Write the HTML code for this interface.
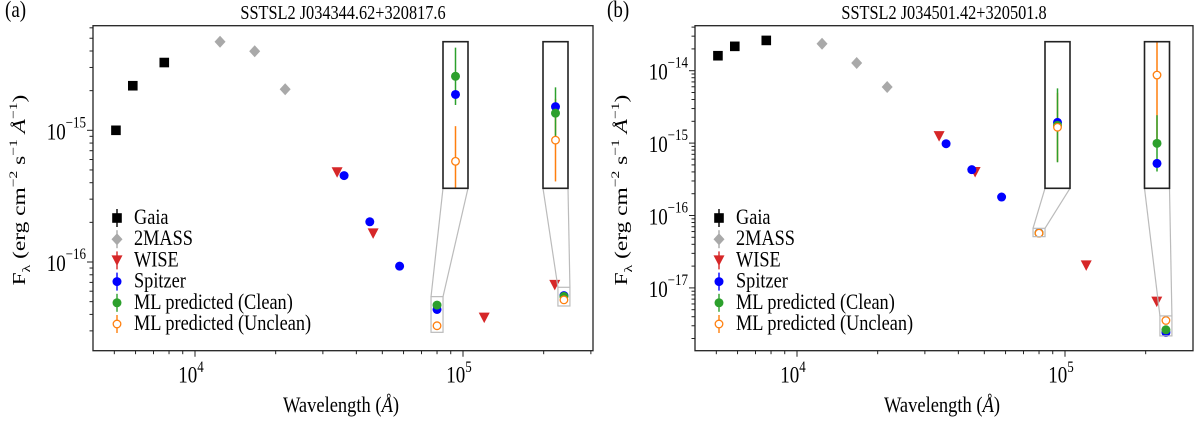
<!DOCTYPE html>
<html><head><meta charset="utf-8">
<style>
html,body{margin:0;padding:0;background:#fff;}
svg{display:block;font-family:"Liberation Serif",serif;}
</style></head>
<body>
<svg id="chart" width="1200" height="424" viewBox="0 0 1200 424" xmlns="http://www.w3.org/2000/svg"></svg>
<script>
// ---------- data (wavelength in Angstrom, flux in erg cm^-2 s^-1 A^-1) ----------
const gaiaWave = [5070, 5860, 7680];
const twomassWave = [12400, 16700, 21700];
const wiseWave = [33900, 46200, 120000, 220000];
const spitzerWave = [36000, 44900, 58000, 80000, 238000];
const mlWave = [80000, 238000];

const aGaia = [1.0e-15, 2.18e-15, 3.27e-15];
const a2mass = [4.7e-15, 3.98e-15, 2.05e-15];
const aWise = [4.8e-16, 1.65e-16, 3.78e-17, 6.7e-17];
const aSpitzer = [4.53e-16, 2.02e-16, 9.3e-17, 4.36e-17, 5.56e-17];
const aClean = [4.71e-17, 5.48e-17];
const aUnclean = [3.28e-17, 5.16e-17];
const aCleanErrDex = [0.053, 0.025];
const aUncleanErrDex = [0.065, 0.04];

const bGaia = [1.61e-14, 2.17e-14, 2.62e-14];
const b2mass = [2.36e-14, 1.28e-14, 5.95e-15];
const bWise = [1.25e-15, 3.99e-16, 2.05e-17, 6.47e-18];
const bSpitzer = [9.8e-16, 4.3e-16, 1.8e-16, 5.75e-17, 2.42e-18];
const bClean = [5.72e-17, 2.64e-18];
const bUnclean = [5.70e-17, 3.55e-18];
const bCleanErrDex = [0.029, 0.053];
const bUncleanErrDex = [0.027, 0.13];

const xTickExps = [4, 5];
const aYTickExps = [-15, -16];
const bYTickExps = [-14, -15, -16, -17];
const legendLabels = ["Gaia", "2MASS", "WISE", "Spitzer", "ML predicted (Clean)", "ML predicted (Unclean)"];
</script>
<script>
const NS = "http://www.w3.org/2000/svg";
const svg = document.getElementById("chart");
function mk(tag, attrs, parent){
  const e = document.createElementNS(NS, tag);
  for (const k in attrs) e.setAttribute(k, attrs[k]);
  (parent || svg).appendChild(e);
  return e;
}
function txt(parent, x, y, size, anchor, extra){
  const e = mk("text", {x:0, y:0, "font-size":size, "text-anchor":anchor || "start",
    transform:`translate(${x},${y}) ${extra || "scale(1,1.2)"}`}, parent);
  return e;
}
const C = {gaia:"#000000", tm:"#a9a9a9", wise:"#d62728", sp:"#0000ff", cl:"#2ca02c", un:"#ff7f0e"};

function marker(g, kind, x, y, color){
  let e;
  if (kind === "square") e = mk("rect", {x:x-4.8, y:y-4.8, width:9.6, height:9.6, fill:color}, g);
  else if (kind === "diamond") e = mk("polygon", {points:`${x},${y-6} ${x+5.5},${y} ${x},${y+6} ${x-5.5},${y}`, fill:color}, g);
  else if (kind === "tri") e = mk("polygon", {points:`${x-5.5},${y-5} ${x+5.5},${y-5} ${x},${y+5.5}`, fill:color}, g);
  else if (kind === "circle") e = mk("circle", {cx:x, cy:y, r:4.5, fill:color}, g);
  else e = mk("circle", {cx:x, cy:y, r:3.8, fill:"#fff", stroke:color, "stroke-width":1.3}, g);
  return e;
}

function drawPanel(P){
  const g = mk("g", {});
  
  
  const X = v => P.x10_4 + (Math.log10(v) - 4) * P.xDec;
  const Y = v => P.yRef + (P.yRefExp - Math.log10(v)) * P.yDec;
  const YL = l => P.yRef + (P.yRefExp - l) * P.yDec;

  const lab = txt(g, P.left-88, 17, 19);
  lab.textContent = P.tag;
  
  
  const t = txt(g, (P.left+P.right)/2, 19, 16.3, "middle");
  t.textContent = P.title;
  
  

  for (let e = 3; e <= 5; e++) for (let m = 1; m <= 9; m++) {
    const v = m * Math.pow(10, e), px = X(v);
    if (px < P.left + 0.5 || px > P.right - 0.5) continue;
    const len = m === 1 ? 6 : 3.5;
    mk("line", {x1:px, y1:P.bottom, x2:px, y2:P.bottom+len, stroke:"#222", "stroke-width":1}, g);
  }
  xTickExps.forEach(ex => {
    const tx = txt(g, X(Math.pow(10, ex)) - 4, P.bottom+32, 19, "middle");
    tx.innerHTML = `10<tspan dy="-9" font-size="13">${ex}</tspan>`;
    
    
  });
  for (let e = -19; e <= -13; e++) for (let m = 1; m <= 9; m++) {
    const v = m * Math.pow(10, e), py = Y(v);
    if (py < P.top + 0.5 || py > P.bottom - 0.5) continue;
    const len = m === 1 ? 6 : 3.5;
    mk("line", {x1:P.left-len, y1:py, x2:P.left, y2:py, stroke:"#222", "stroke-width":1}, g);
  }
  P.yTicks.forEach(ex => {
    const ty = txt(g, P.left-7, YL(ex)+9, 19, "end");
    ty.innerHTML = `10<tspan dy="-10" font-size="13">${ex < 0 ? "\u2212" + (-ex) : ex}</tspan>`;
    
    
  });
  const xt = txt(g, (P.left+P.right)/2 - 2, 412, 18.5, "middle");
  xt.innerHTML = 'Wavelength (<tspan font-style="italic">Å</tspan>)';
  
  
  const yt = txt(g, P.left-68, 190, 18, "middle", "rotate(-90) scale(1.3,1)");
  yt.innerHTML = 'F<tspan dy="5" font-size="12">λ</tspan><tspan dy="-5"> (erg cm</tspan><tspan dy="-8" font-size="12">−2</tspan><tspan dy="8"> s</tspan><tspan dy="-8" font-size="12">−1</tspan><tspan dy="8"> </tspan><tspan font-style="italic">Å</tspan><tspan dy="-8" font-size="12">−1</tspan><tspan dy="8">)</tspan>';
  
  

  const series = [
    {w:gaiaWave, f:P.gaia, k:"square", c:C.gaia, n:"gaia-point"},
    {w:twomassWave, f:P.tm, k:"diamond", c:C.tm, n:"2mass-point"},
    {w:wiseWave, f:P.wise, k:"tri", c:C.wise, n:"wise-point"},
    {w:spitzerWave, f:P.sp, k:"circle", c:C.sp, n:"spitzer-point"},
    {w:mlWave, f:P.clean, k:"circle", c:C.cl, n:"ml-clean-point"},
    {w:mlWave, f:P.unclean, k:"open", c:C.un, n:"ml-unclean-point"}
  ];
  series.forEach(s => s.w.forEach((w, i) => {
    const e = marker(g, s.k, X(w), Y(s.f[i]), s.c);
    
    
  }));

  mlWave.forEach((w, i) => {
    const sp = P.sp[3 + i];
    const top = P.insetRange[i][0], bot = P.insetRange[i][1];
    const gx0 = X(w) - 6, gx1 = X(w) + 6, gy0 = YL(top), gy1 = YL(bot);
    const box = mk("rect", {x:gx0, y:gy0, width:gx1-gx0, height:gy1-gy0, fill:"none", stroke:"#bbb", "stroke-width":1.2}, g);
    
    
    const ix0 = P.insetX[i], ix1 = ix0 + 25, iy0 = 41.7, iy1 = 188.3;
    mk("line", {x1:gx0, y1:gy0, x2:ix0, y2:iy1, stroke:"#bbb", "stroke-width":1.2}, g);
    mk("line", {x1:gx1, y1:gy0, x2:ix1, y2:iy1, stroke:"#bbb", "stroke-width":1.2}, g);
    const IY = l => iy0 + (top - l) / (top - bot) * (iy1 - iy0);
    const clip = v => Math.max(iy0, Math.min(iy1, v));
    const cx = (ix0 + ix1) / 2;
    const ig = mk("g", {}, g);
    
    
    const lc = Math.log10(P.clean[i]), lu = Math.log10(P.unclean[i]);
    mk("line", {x1:cx, y1:clip(IY(lu + P.uErr[i])), x2:cx, y2:clip(IY(lu - P.uErr[i])), stroke:C.un, "stroke-width":1.5}, ig);
    mk("line", {x1:cx, y1:clip(IY(lc + P.cErr[i])), x2:cx, y2:clip(IY(lc - P.cErr[i])), stroke:C.cl, "stroke-width":1.5}, ig);
    marker(ig, "circle", cx, IY(Math.log10(sp)), C.sp);
    marker(ig, "circle", cx, IY(lc), C.cl);
    marker(ig, "open", cx, IY(lu), C.un);
    mk("rect", {x:ix0, y:iy0, width:ix1-ix0, height:iy1-iy0, fill:"none", stroke:"#222", "stroke-width":1.6}, ig);
  });

  const fr = mk("rect", {x:P.left, y:P.top, width:P.right-P.left, height:P.bottom-P.top, fill:"none", stroke:"#222", "stroke-width":1.3}, g);
  
  

  const kinds = ["square","diamond","tri","circle","circle","open"];
  const cols = [C.gaia, C.tm, C.wise, C.sp, C.cl, C.un];
  legendLabels.forEach((lbl, i) => {
    const lg = mk("g", {}, g);
    
    
    const ly = 218 + i * 21.2, lx = P.left + 24;
    mk("line", {x1:lx, y1:ly-9, x2:lx, y2:ly+9, stroke:cols[i], "stroke-width":1.4}, lg);
    marker(lg, kinds[i], lx, ly, cols[i]);
    const tt = txt(lg, lx+17, ly+6, 18.3);
    tt.textContent = lbl;
  });
}

drawPanel({name:"panel-a", tag:"(a)", title:"SSTSL2 J034344.62+320817.6",
  left:93, right:593, top:25.7, bottom:350.7, x10_4:195, xDec:268,
  yRef:130.3, yRefExp:-15, yDec:131.7, yTicks:aYTickExps,
  gaia:aGaia, tm:a2mass, wise:aWise, sp:aSpitzer, clean:aClean, unclean:aUnclean,
  cErr:aCleanErrDex, uErr:aUncleanErrDex, insetX:[443, 543],
  insetRange:[[-16.263,-16.534],[-16.192,-16.334]]});
drawPanel({name:"panel-b", tag:"(b)", title:"SSTSL2 J034501.42+320501.8",
  left:695, right:1193, top:25.7, bottom:350.7, x10_4:797, xDec:268,
  yRef:70.7, yRefExp:-14, yDec:72.4, yTicks:bYTickExps,
  gaia:bGaia, tm:b2mass, wise:bWise, sp:bSpitzer, clean:bClean, unclean:bUnclean,
  cErr:bCleanErrDex, uErr:bUncleanErrDex, insetX:[1045, 1144.5],
  insetRange:[[-16.177,-16.292],[-17.387,-17.663]]});
</script>
</body></html>
